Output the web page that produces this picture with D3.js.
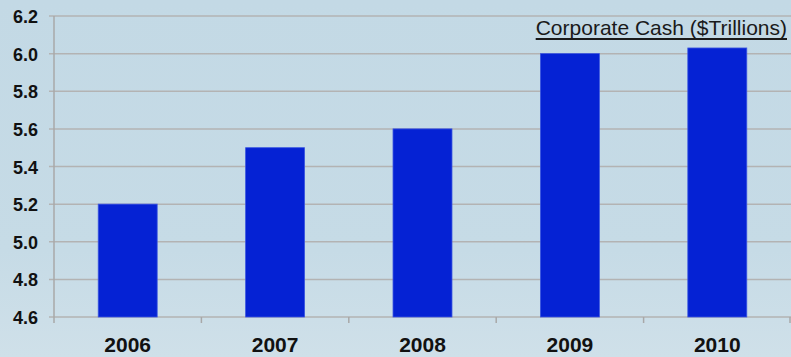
<!DOCTYPE html>
<html>
<head>
<meta charset="utf-8">
<script src="https://cdn.jsdelivr.net/npm/d3@7"></script>
<style>
  body { margin: 0; padding: 0; overflow: hidden; }
  svg { display: block; }
</style>
</head>
<body>
<div id="chart"></div>
<script>
// chart data
var years = ["2006", "2007", "2008", "2009", "2010"];
var cash = [5.2, 5.5, 5.6, 6.0, 6.03];
var yTicks = [4.6, 4.8, 5.0, 5.2, 5.4, 5.6, 5.8, 6.0, 6.2];
var title = "Corporate Cash ($Trillions)";

var width = 791, height = 357;
var margin = { top: 16, right: 0, bottom: 40, left: 54 };

var svg = d3.select("#chart").append("svg")
    .attr("width", width)
    .attr("height", height);

// background gradient
var defs = svg.append("defs");
var grad = defs.append("linearGradient")
    .attr("id", "bg")
    .attr("x1", 0).attr("y1", 0).attr("x2", 0).attr("y2", 1);
grad.append("stop").attr("offset", "0%").attr("stop-color", "#c3d9e5");
grad.append("stop").attr("offset", "70%").attr("stop-color", "#c6dbe6");
grad.append("stop").attr("offset", "100%").attr("stop-color", "#cfe0e9");

svg.append("rect")
    .attr("width", width)
    .attr("height", height)
    .attr("fill", "url(#bg)");

var x = d3.scaleBand()
    .domain(years)
    .range([margin.left, width - margin.right])
    .paddingInner(0.6)
    .paddingOuter(0.3);

var y = d3.scaleLinear()
    .domain([4.6, 6.2])
    .range([317, margin.top]);

// grid lines
svg.append("g")
    .selectAll("line")
    .data(yTicks)
    .enter().append("line")
    .attr("x1", margin.left - 5)
    .attr("x2", width)
    .attr("y1", d => y(d))
    .attr("y2", d => y(d))
    .attr("stroke", "#b3b3b3")
    .attr("stroke-width", 1.5);

// y axis line
svg.append("line")
    .attr("x1", margin.left)
    .attr("x2", margin.left)
    .attr("y1", y(6.2))
    .attr("y2", y(4.6) + 6)
    .attr("stroke", "#a8a8a8")
    .attr("stroke-width", 1.5);

// y tick labels
svg.append("g")
    .selectAll("text")
    .data(yTicks)
    .enter().append("text")
    .attr("x", 38)
    .attr("y", d => y(d) + 7)
    .attr("text-anchor", "end")
    .style("font-family", "Liberation Sans, Arial, sans-serif")
    .style("font-weight", "bold")
    .style("font-size", "18px")
    .attr("fill", "#111")
    .text(d => d.toFixed(1));

// bars
svg.append("g")
    .selectAll("rect")
    .data(cash)
    .enter().append("rect")
    .attr("x", (d, i) => x(years[i]))
    .attr("width", x.bandwidth())
    .attr("y", d => y(d))
    .attr("height", d => y(4.6) - y(d))
    .attr("fill", "#0522d4")
    .attr("stroke", "#3a55e0")
    .attr("stroke-width", 0.8);

// x axis ticks at band boundaries
var step = x.step();
var bounds = years.map((d, i) => x(d) - step * 0.3).concat([width - 1]);
svg.append("g")
    .selectAll("line")
    .data(bounds.slice(1))
    .enter().append("line")
    .attr("x1", d => d)
    .attr("x2", d => d)
    .attr("y1", y(4.6))
    .attr("y2", y(4.6) + 6)
    .attr("stroke", "#a8a8a8")
    .attr("stroke-width", 1.5);

// x labels
svg.append("g")
    .selectAll("text")
    .data(years)
    .enter().append("text")
    .attr("x", d => x(d) + x.bandwidth() / 2)
    .attr("y", 352)
    .attr("text-anchor", "middle")
    .style("font-family", "Liberation Sans, Arial, sans-serif")
    .style("font-weight", "bold")
    .style("font-size", "21px")
    .attr("fill", "#111")
    .text(d => d);

// title with a heavier underline
var titleText = svg.append("text")
    .attr("x", 787)
    .attr("y", 35)
    .attr("text-anchor", "end")
    .style("font-family", "Liberation Sans, Arial, sans-serif")
    .style("font-size", "21px")
    .attr("fill", "#1a1a1a")
    .text(title);

var tb = titleText.node().getBBox();
svg.append("line")
    .attr("x1", tb.x)
    .attr("x2", tb.x + tb.width)
    .attr("y1", 39)
    .attr("y2", 39)
    .attr("stroke", "#1a1a1a")
    .attr("stroke-width", 2);
</script>
</body>
</html>
